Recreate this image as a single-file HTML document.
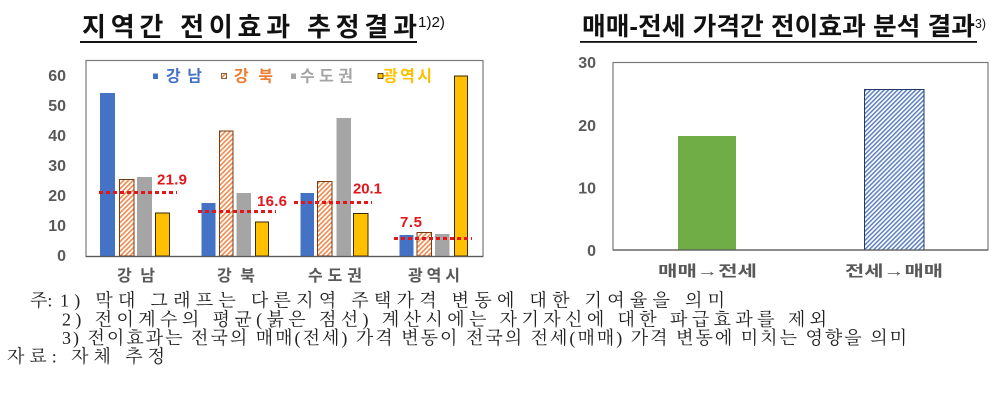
<!DOCTYPE html>
<html>
<head>
<meta charset="utf-8">
<style>
html,body{margin:0;padding:0;background:#fff;}
svg{display:block;}
</style>
</head>
<body>
<svg width="1006" height="409" viewBox="0 0 1006 409" xmlns="http://www.w3.org/2000/svg">
<defs>
<pattern id="ho" patternUnits="userSpaceOnUse" width="3.4" height="3.4" patternTransform="rotate(45)">
<rect width="3.4" height="3.4" fill="#fff"/><rect width="1.6" height="3.4" fill="#EE8A4E"/>
</pattern>
<pattern id="hb" patternUnits="userSpaceOnUse" width="3.2" height="3.2" patternTransform="rotate(45)">
<rect width="3.2" height="3.2" fill="#fff"/><rect width="1.5" height="3.2" fill="#5B7FC0"/>
</pattern>
</defs>

<!-- LEFT TITLE -->
<text x="82" y="36" font-family="'Liberation Sans','Noto Sans CJK KR',sans-serif" font-size="26" font-weight="bold" fill="#111" textLength="335" lengthAdjust="spacing">지역간 전이효과 추정결과</text>
<text x="418" y="27" font-family="'Liberation Sans',sans-serif" font-size="15" fill="#111" textLength="27" lengthAdjust="spacingAndGlyphs">1)2)</text>
<rect x="80" y="41" width="337" height="2" fill="#111"/>

<!-- LEFT PLOT -->
<rect x="86" y="60.5" width="397" height="196" fill="#fff" stroke="#7a7a7a" stroke-width="1.2"/>
<g font-family="'Liberation Sans',sans-serif" font-size="16" font-weight="bold" fill="#595959" text-anchor="end">
<text x="66" y="81">60</text>
<text x="66" y="111">50</text>
<text x="66" y="141">40</text>
<text x="66" y="171">30</text>
<text x="66" y="201">20</text>
<text x="66" y="231">10</text>
<text x="66" y="261">0</text>
</g>

<!-- bars group 1 -->
<rect x="100" y="93" width="15" height="163" fill="#4472C4"/>
<rect x="119.5" y="179.5" width="14.5" height="76.5" fill="url(#ho)" stroke="#7a3a10" stroke-width="1"/>
<rect x="137" y="177" width="15" height="79" fill="#A5A5A5"/>
<rect x="155.5" y="213" width="14" height="43" fill="#FFC000" stroke="#3a2a00" stroke-width="1"/>
<!-- group 2 -->
<rect x="201.5" y="203" width="14" height="53" fill="#4472C4"/>
<rect x="219.5" y="131" width="13.5" height="125" fill="url(#ho)" stroke="#7a3a10" stroke-width="1"/>
<rect x="236.5" y="193" width="14.5" height="63" fill="#A5A5A5"/>
<rect x="255.5" y="222" width="13" height="34" fill="#FFC000" stroke="#3a2a00" stroke-width="1"/>
<!-- group 3 -->
<rect x="300.5" y="193" width="13.5" height="63" fill="#4472C4"/>
<rect x="317.5" y="181.5" width="14.5" height="74.5" fill="url(#ho)" stroke="#7a3a10" stroke-width="1"/>
<rect x="336.5" y="118" width="14.5" height="138" fill="#A5A5A5"/>
<rect x="353.5" y="213.5" width="14.5" height="42.5" fill="#FFC000" stroke="#3a2a00" stroke-width="1"/>
<!-- group 4 -->
<rect x="399.5" y="235" width="14" height="21" fill="#4472C4"/>
<rect x="417" y="232.5" width="14.5" height="23.5" fill="url(#ho)" stroke="#7a3a10" stroke-width="1"/>
<rect x="435" y="234" width="14.5" height="22" fill="#A5A5A5"/>
<rect x="454.5" y="76" width="13" height="180" fill="#FFC000" stroke="#3a2a00" stroke-width="1"/>

<line x1="86" y1="256.5" x2="483" y2="256.5" stroke="#595959" stroke-width="1.3"/>

<!-- red dotted average lines -->
<g stroke="#E3161B" stroke-width="3" stroke-dasharray="4 3" fill="none">
<line x1="99" y1="192.5" x2="177" y2="192.5"/>
<line x1="198" y1="211.5" x2="276" y2="211.5"/>
<line x1="294" y1="202.5" x2="372" y2="202.5"/>
<line x1="394" y1="238.5" x2="472" y2="238.5"/>
</g>
<g font-family="'Liberation Sans',sans-serif" font-size="15" font-weight="bold" fill="#E3161B">
<text x="157" y="184.5" textLength="30" lengthAdjust="spacing">21.9</text>
<text x="257" y="206" textLength="30" lengthAdjust="spacing">16.6</text>
<text x="353" y="193.5" textLength="29" lengthAdjust="spacing">20.1</text>
<text x="400" y="227" textLength="22" lengthAdjust="spacing">7.5</text>
</g>

<!-- legend -->
<rect x="153" y="73.5" width="5" height="5.5" fill="#4472C4"/>
<rect x="221.5" y="73.5" width="5" height="5" fill="url(#ho)" stroke="#7a3a10" stroke-width="0.8"/>
<rect x="291" y="73.5" width="5" height="5.5" fill="#A5A5A5"/>
<rect x="378" y="73.5" width="5" height="5" fill="#FFC000" stroke="#3a2a00" stroke-width="0.8"/>
<g font-family="'Liberation Sans','Noto Sans CJK KR',sans-serif" font-size="16" font-weight="bold">
<text x="166" y="81.5" fill="#4472C4" textLength="36" lengthAdjust="spacing">강남</text>
<text x="234" y="81.5" fill="#ED7D31" textLength="39" lengthAdjust="spacing">강 북</text>
<text x="300" y="81.5" fill="#A5A5A5" textLength="53" lengthAdjust="spacing">수도권</text>
<text x="383" y="81.5" fill="#FFC000" textLength="49" lengthAdjust="spacing">광역시</text>
</g>

<!-- x labels left -->
<g font-family="'Liberation Sans','Noto Sans CJK KR',sans-serif" font-size="16" font-weight="bold" fill="#595959">
<text x="117" y="281" textLength="38" lengthAdjust="spacing">강 남</text>
<text x="217" y="281" textLength="38" lengthAdjust="spacing">강 북</text>
<text x="308" y="281" textLength="54" lengthAdjust="spacing">수도권</text>
<text x="408" y="281" textLength="52" lengthAdjust="spacing">광역시</text>
</g>

<!-- RIGHT TITLE -->
<text x="582" y="35" font-family="'Liberation Sans','Noto Sans CJK KR',sans-serif" font-size="25" font-weight="bold" fill="#111" textLength="393" lengthAdjust="spacingAndGlyphs">매매-전세 가격간 전이효과 분석 결과</text>
<text x="975" y="28" font-family="'Liberation Sans',sans-serif" font-size="13" fill="#111" textLength="11" lengthAdjust="spacingAndGlyphs">3)</text>
<rect x="580" y="41" width="397" height="1.8" fill="#111"/>

<!-- RIGHT PLOT -->
<rect x="613" y="62.5" width="375" height="187.5" fill="#fff" stroke="#7a7a7a" stroke-width="1.2"/>
<g font-family="'Liberation Sans',sans-serif" font-size="16" font-weight="bold" fill="#595959" text-anchor="end">
<text x="596" y="68">30</text>
<text x="596" y="131">20</text>
<text x="596" y="193.5">10</text>
<text x="596" y="256">0</text>
</g>
<rect x="678" y="136" width="58" height="114" fill="#70AD47"/>
<rect x="864.5" y="89.5" width="59.5" height="160.5" fill="url(#hb)" stroke="#223a6a" stroke-width="1"/>
<line x1="613" y1="250" x2="988" y2="250" stroke="#595959" stroke-width="1.3"/>
<g font-family="'Liberation Sans','Noto Sans CJK KR',sans-serif" font-size="15" font-weight="bold" fill="#595959">
<text x="658" y="276" textLength="99" lengthAdjust="spacingAndGlyphs">매매→전세</text>
<text x="845" y="276" textLength="98" lengthAdjust="spacingAndGlyphs">전세→매매</text>
</g>

<!-- NOTES -->
<g font-family="'Liberation Serif','Noto Serif CJK KR','Noto Serif CJK SC',serif" font-size="18" fill="#222">
<text x="30" y="306.5">주:</text>
<text x="60" y="306.5" textLength="665" lengthAdjust="spacing">1) 막대 그래프는 다른지역 주택가격 변동에 대한 기여율을 의미</text>
<text x="62" y="325.5" textLength="765" lengthAdjust="spacing">2) 전이계수의 평균(붉은 점선) 계산시에는 자기자신에 대한 파급효과를 제외</text>
<text x="62" y="344" textLength="845" lengthAdjust="spacing">3) 전이효과는 전국의 매매(전세) 가격 변동이 전국의 전세(매매) 가격 변동에 미치는 영향을 의미</text>
<text x="7" y="362.5" textLength="158" lengthAdjust="spacing">자료: 자체 추정</text>
</g>
</svg>
</body>
</html>
